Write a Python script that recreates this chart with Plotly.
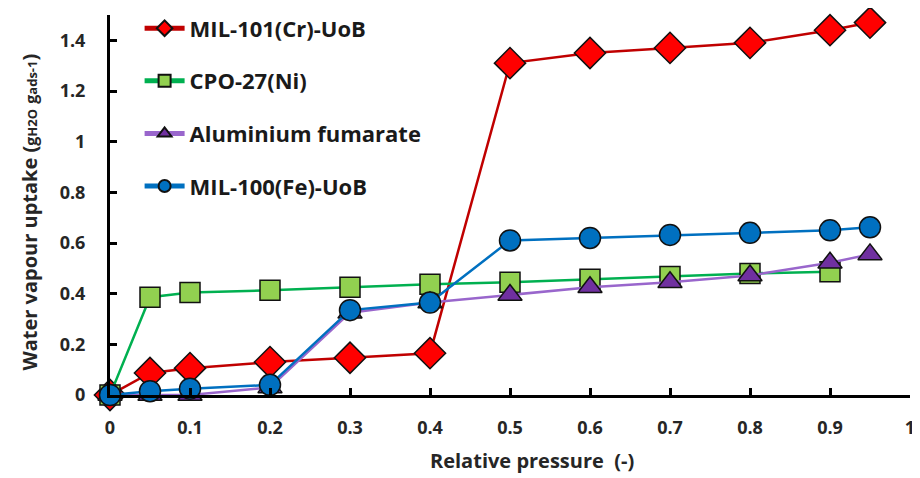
import plotly.graph_objects as go

x_main = [0, 0.05, 0.1, 0.2, 0.3, 0.4, 0.5, 0.6, 0.7, 0.8, 0.9, 0.95]
x_cpo = [0, 0.05, 0.1, 0.2, 0.3, 0.4, 0.5, 0.6, 0.7, 0.8, 0.9]

mil101 = [0, 0.087, 0.106, 0.13, 0.147, 0.165, 1.31, 1.35, 1.37, 1.39, 1.44, 1.47]
cpo27 = [0, 0.386, 0.405, 0.413, 0.425, 0.437, 0.445, 0.457, 0.468, 0.48, 0.487]
alfum = [0, 0, 0, 0.03, 0.325, 0.365, 0.395, 0.425, 0.445, 0.472, 0.522, 0.555]
mil100 = [0, 0.015, 0.025, 0.04, 0.335, 0.365, 0.61, 0.62, 0.632, 0.64, 0.65, 0.662]

x_ticks = [0, 0.1, 0.2, 0.3, 0.4, 0.5, 0.6, 0.7, 0.8, 0.9, 1]
x_labels = ["0", "0.1", "0.2", "0.3", "0.4", "0.5", "0.6", "0.7", "0.8", "0.9", "1"]
y_ticks = [0, 0.2, 0.4, 0.6, 0.8, 1, 1.2, 1.4]
y_labels = ["0", "0.2", "0.4", "0.6", "0.8", "1", "1.2", "1.4"]

FONT = "Open Sans"
TXT = "#262626"

fig = go.Figure()

series = [
    ("MIL-101(Cr)-UoB", x_main, mil101, "#C00000", "#FF0000", "diamond", 24),
    ("CPO-27(Ni)", x_cpo, cpo27, "#00B050", "#92D050", "square", 20),
    ("Aluminium fumarate", x_main, alfum, "#9966CC", "#7030A0", "triangle-up", 21),
    ("MIL-100(Fe)-UoB", x_main, mil100, "#0070C0", "#0070C0", "circle", 21),
]

for i, (name, xs, ys, lc, fc, sym, sz) in enumerate(series):
    fig.add_trace(go.Scatter(
        x=xs, y=ys, name=name, mode="lines+markers",
        line=dict(color=lc, width=2.5),
        marker=dict(symbol=sym, size=sz, color=fc,
                    line=dict(color="#111111", width=1.5)),
        cliponaxis=False,
        legendgroup=str(i),
    ))

y_title = ("Water vapour uptake (<span style='font-size:16px'>g</span>"
           "<span style='font-size:13px'>H2O</span> <span style='font-size:16px'>g</span>"
           "<span style='font-size:13px'>ads-1</span>)")

# page body has an 8px default margin; size the figure to fit the 920x478 window
fig.update_layout(
    width=912, height=470,
    margin=dict(l=102, r=10, t=7, b=83, autoexpand=False),
    paper_bgcolor="white", plot_bgcolor="white",
    font=dict(family=FONT, color=TXT, size=18),
    showlegend=True,
    legend=dict(
        x=0.037, y=1.02, xanchor="left", yanchor="top",
        font=dict(family=FONT, size=22, color="#1a1a1a", weight="bold"),
        tracegroupgap=21, itemsizing="constant", itemwidth=40,
        bgcolor="rgba(255,255,255,0)",
    ),
    xaxis=dict(
        range=[0, 1], tickvals=x_ticks, ticktext=x_labels,
        showline=True, linecolor="black", linewidth=3,
        ticks="inside", ticklen=7, tickwidth=2.5, tickcolor="black",
        showgrid=False, zeroline=False, automargin=False,
        ticklabelstandoff=14,
        tickfont=dict(family=FONT, size=18, color=TXT, weight="bold"),
    ),
    yaxis=dict(
        range=[0, 1.5], tickvals=y_ticks, ticktext=y_labels,
        showline=True, linecolor="black", linewidth=3,
        ticks="inside", ticklen=7, tickwidth=2.5, tickcolor="black",
        showgrid=False, zeroline=False, automargin=False,
        ticklabelstandoff=18,
        tickfont=dict(family=FONT, size=18, color=TXT, weight="bold"),
    ),
    annotations=[
        dict(text="Relative pressure  (-)", xref="paper", yref="paper",
             x=0.527, y=-0.172, xanchor="center", yanchor="middle", showarrow=False,
             font=dict(family=FONT, size=20, color=TXT, weight="bold")),
        dict(text=y_title, xref="paper", yref="paper", textangle=-90,
             x=-0.1, y=0.48, xanchor="center", yanchor="middle", showarrow=False,
             font=dict(family=FONT, size=20, color=TXT, weight="bold")),
    ],
)

fig.write_html("out.html")
